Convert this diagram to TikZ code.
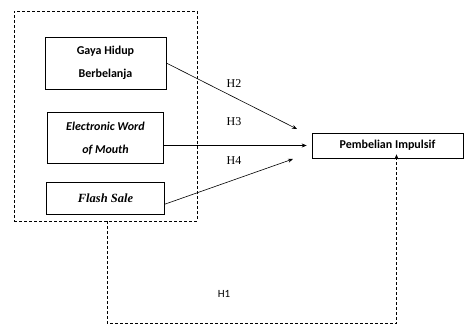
\documentclass[tikz,border=0pt]{standalone}
\usepackage{fontspec}
\setmainfont{Liberation Serif}
\newfontfamily\carlito{Carlito}
\newfontfamily\timesbi{Liberation Serif Bold Italic}
\usetikzlibrary{arrows.meta, positioning, calc}

\begin{document}
\begin{tikzpicture}[
        x=1pt, y=-1pt,
        var/.style={rectangle, draw, semithick, align=center, inner sep=0pt,
            font=\carlito\bfseries\fontsize{12}{14}\selectfont},
        group/.style={rectangle, draw, dash pattern=on 3pt off 2pt, semithick, minimum width=183pt, minimum height=210pt},
        link/.style={-{Stealth[length=5pt, width=4pt]}, semithick},
        hlabel/.style={font=\rmfamily\fontsize{12}{14}\selectfont},
        h1/.style={-{Stealth[length=5pt, width=4pt]}, dash pattern=on 3pt off 2pt, semithick}
    ]
    \useasboundingbox (0,0) rectangle (464,325);

    % Independent variables
    \node[group] (grp) at (105.5,116) {};
    \node[var, minimum width=121pt, minimum height=52pt] (ghb) at (105.5,63) {Gaya Hidup\\[9pt]Berbelanja};
    \node[var, minimum width=116pt, minimum height=51pt, below=23pt of ghb] (ewom)
        {\itshape Electronic Word\\[9pt]\itshape of Mouth};
    \node[var, minimum width=118pt, minimum height=32pt, below=18pt of ewom] (fs)
        {\timesbi\fontsize{12.5}{14}\selectfont Flash Sale};

    % Dependent variable
    \node[var, minimum width=151pt, minimum height=25pt] (pi) at (387.5,145.5) {Pembelian Impulsif};

    % Arrow ends
    \coordinate (h2end) at (297,129);
    \coordinate (h4end) at (293,159);

    % Hypotheses
    \draw[link] (ghb.east) -- (h2end);
    \draw[link] (ewom.east |- pi.west) -- ([xshift=-5pt]pi.west);
    \draw[link] ([yshift=-6pt]fs.east) -- (h4end);
    \node[hlabel] (lh2) at (234,84) {H2};
    \node[hlabel] (lh3) at (234,122) {H3};
    \node[hlabel] (lh4) at (234,161) {H4};

    % Simultaneous effect
    \draw[h1] ([xshift=1.5pt]grp.south) -- ++(0,102) -| ([xshift=9pt, yshift=4pt]pi.south);
    \node[font=\carlito\fontsize{11}{13}\selectfont] (lh1) at (224,294) {H1};
\end{tikzpicture}
\end{document}
